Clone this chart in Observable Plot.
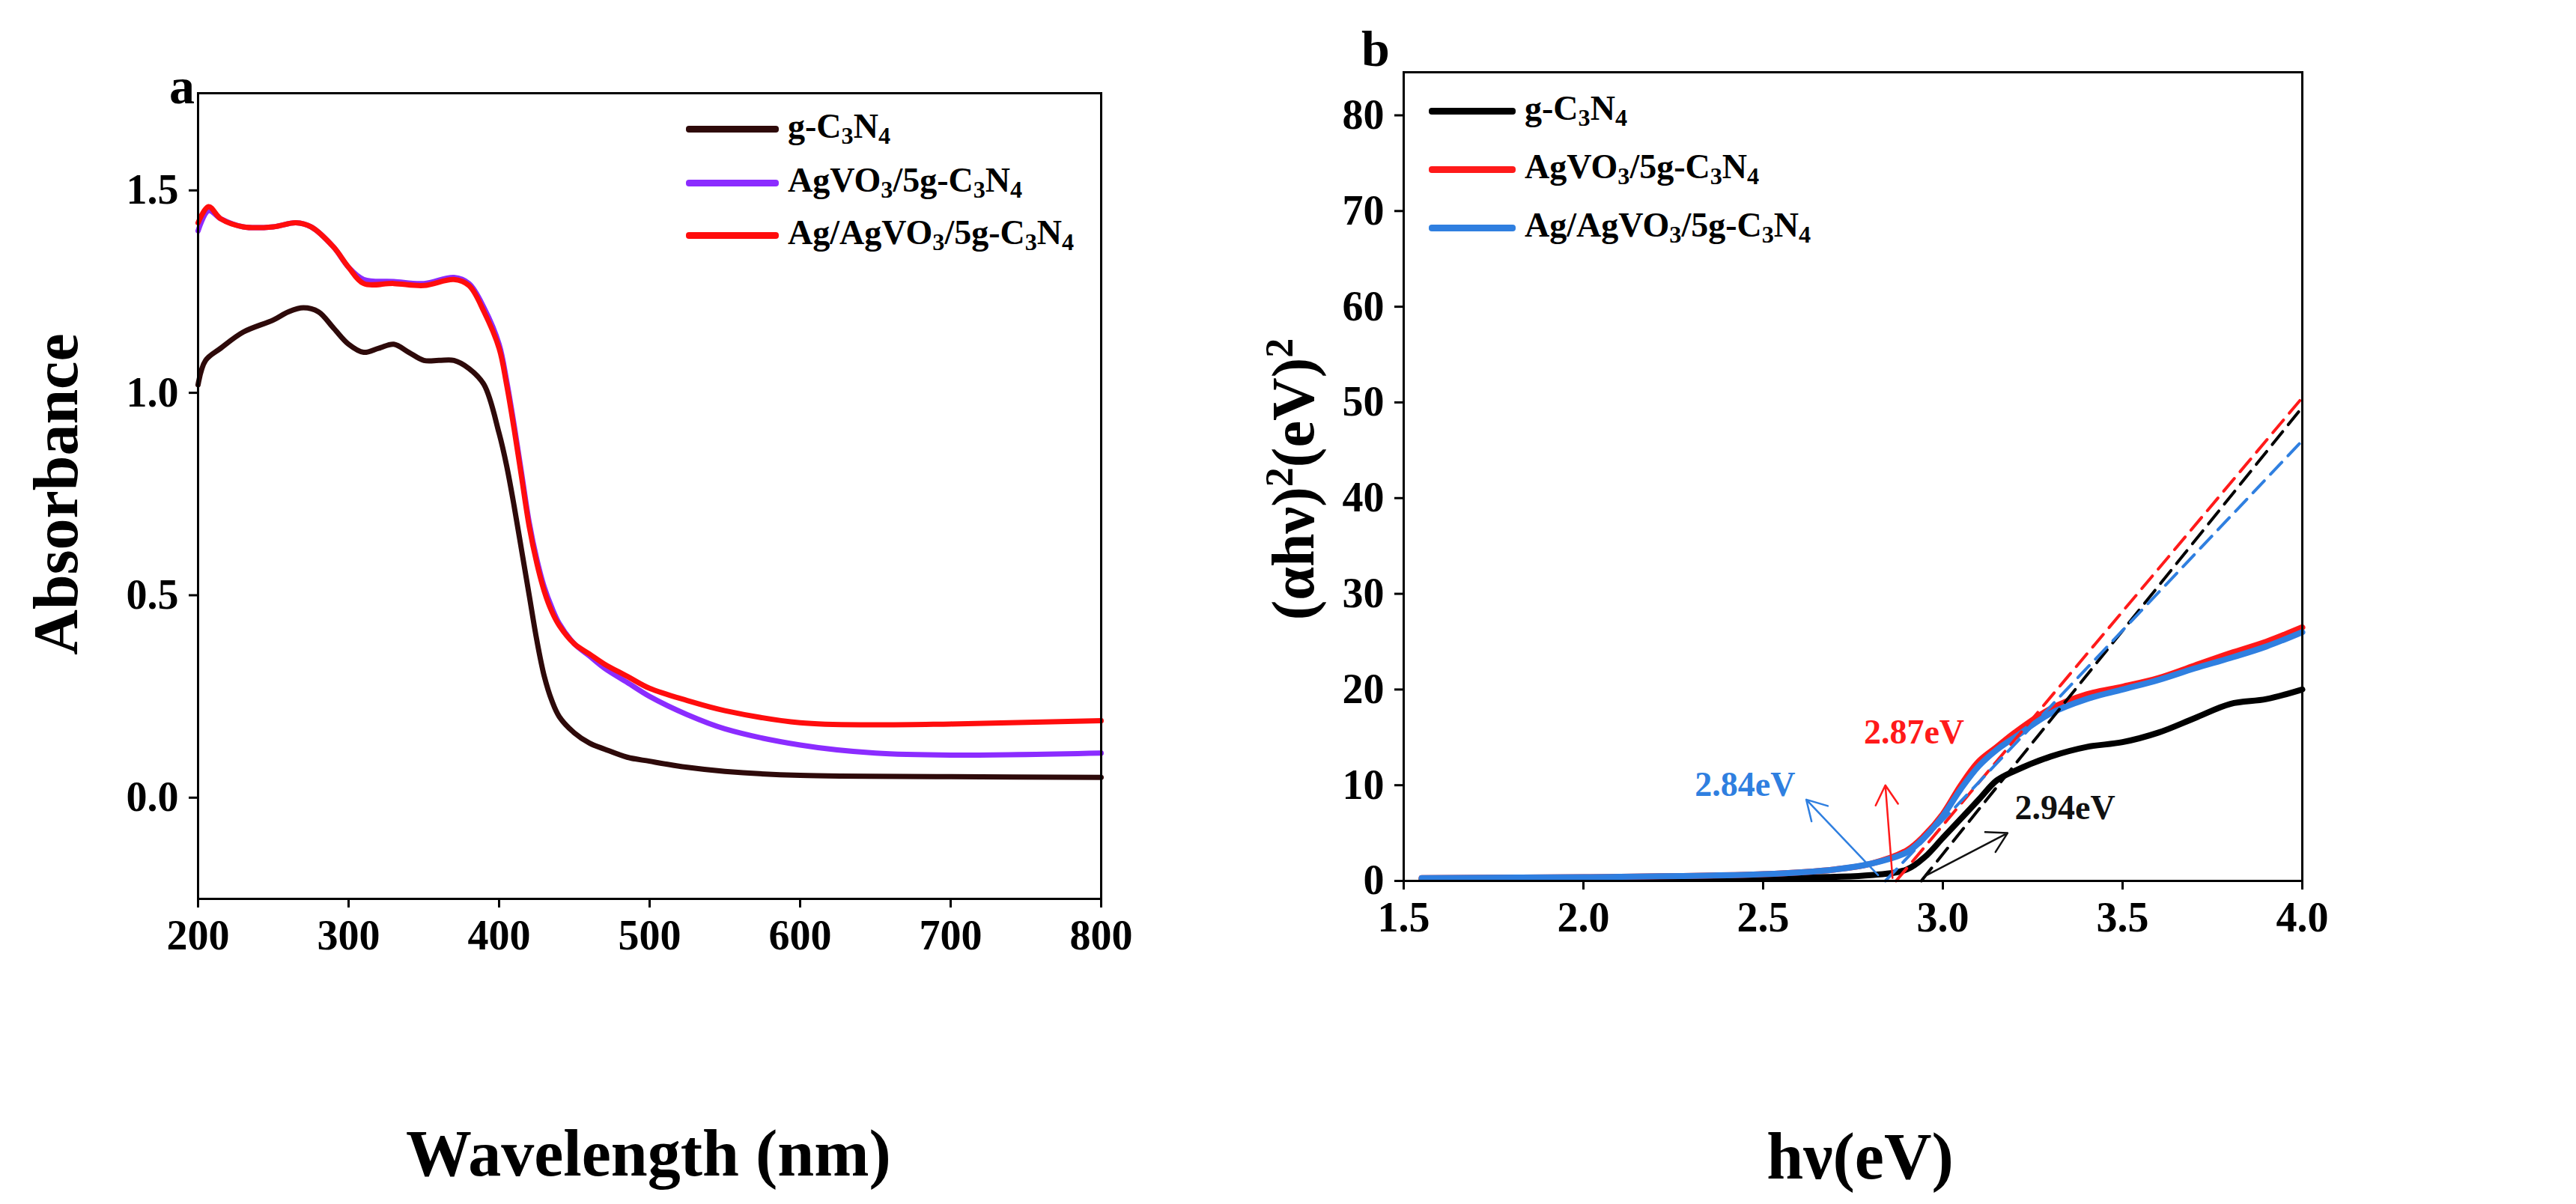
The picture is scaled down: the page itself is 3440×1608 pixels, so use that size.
<!DOCTYPE html>
<html><head><meta charset="utf-8">
<script src="https://cdn.jsdelivr.net/npm/d3@7"></script>
<script src="https://cdn.jsdelivr.net/npm/@observablehq/plot@0.6"></script>
<style>
body{margin:0;background:#fff;font-family:"Liberation Serif",serif;font-weight:bold}
#wrap{position:relative;width:3440px;height:1608px;overflow:hidden}
.abs{position:absolute;white-space:nowrap}
.sw{position:absolute;height:9px;border-radius:4px}
svg text{font-family:"Liberation Serif",serif;font-weight:bold}
</style></head><body><div id="wrap"></div>
<script>
// Panel a: absorbance spectra
const wlG = [200,205,215,230,250,260,270,280,290,300,310,320,330,340,350,360,370,380,390,400,405,410,415,420,425,430,435,440,450,460,470,485,500,525,550,600,700,800];
const absG = [1.02,1.08,1.11,1.15,1.18,1.20,1.21,1.20,1.16,1.12,1.10,1.11,1.12,1.10,1.08,1.08,1.08,1.06,1.02,0.90,0.82,0.72,0.61,0.50,0.39,0.30,0.24,0.20,0.16,0.135,0.12,0.10,0.09,0.075,0.065,0.055,0.052,0.05];
const wlV = [200,207,215,230,250,265,275,290,300,310,330,350,370,380,390,400,405,410,415,420,425,430,435,440,450,460,470,485,500,525,550,600,650,700,800];
const absV = [1.40,1.45,1.43,1.41,1.41,1.42,1.41,1.36,1.31,1.28,1.275,1.27,1.285,1.27,1.21,1.12,1.03,0.92,0.80,0.68,0.59,0.52,0.47,0.43,0.38,0.35,0.32,0.285,0.25,0.205,0.17,0.13,0.11,0.105,0.11];
const absAg = [1.42,1.46,1.43,1.41,1.41,1.42,1.41,1.36,1.31,1.27,1.27,1.265,1.28,1.265,1.20,1.11,1.02,0.91,0.79,0.67,0.58,0.51,0.46,0.425,0.38,0.355,0.33,0.30,0.27,0.24,0.215,0.185,0.18,0.182,0.19];
// Panel b: Tauc plot
const evG = [1.55,2.0,2.5,2.8,2.9,2.95,3.0,3.05,3.1,3.15,3.2,3.3,3.4,3.5,3.6,3.7,3.8,3.9,4.0];
const taucG = [0.2,0.2,0.3,0.6,1.2,2.5,4.5,6.5,8.5,10.5,11.5,13,14,14.5,15.5,17,18.5,19,20];
const evR = [1.55,2.0,2.5,2.7,2.8,2.9,2.95,3.0,3.05,3.1,3.15,3.2,3.3,3.4,3.5,3.6,3.7,3.8,3.9,4.0];
const taucR = [0.3,0.4,0.7,1.2,1.8,3.2,4.8,7.0,10,12.5,14,15.5,18,19.5,20.3,21.2,22.5,23.8,25,26.5];
const taucB = [0.3,0.4,0.7,1.2,1.8,3.0,4.6,6.8,9.6,12,13.7,15,17.5,19,20,21,22.2,23.3,24.5,26];
const fitG = {x:[2.94,4.0], y:[0,49.5]};
const fitR = {x:[2.87,4.0], y:[0,50.5]};
const fitB = {x:[2.84,4.0], y:[0,46]};
const arrows = [
 {x1:2.82,y1:0.6,x2:2.62,y2:8.5,c:"#2f7fe0"},
 {x1:2.86,y1:0.3,x2:2.84,y2:10,c:"#ff1a1a"},
 {x1:2.95,y1:0.5,x2:3.18,y2:5,c:"#111"}];
const notes = [{x:2.31,y:10,t:"2.84eV",c:"#2f7fe0"},{x:2.78,y:15.5,t:"2.87eV",c:"#ff1a1a"},{x:3.2,y:7.6,t:"2.94eV",c:"#111"}];

const wrap = document.getElementById("wrap");
const rows = (xs, ys) => xs.map((x,i)=>({x, y:ys[i]}));
const common = {style:{fontSize:"56px",fontFamily:"Liberation Serif",fontWeight:"bold",color:"#000",background:"transparent",overflow:"visible"}};

const pa = Plot.plot({...common, width:1720, height:1608, marginLeft:264, marginRight:250, marginTop:124, marginBottom:408,
 x:{domain:[200,800], label:null},
 y:{domain:[-0.25,1.74], label:null},
 marks:[
  Plot.line(rows(wlV,absV),{x:"x",y:"y",stroke:"#8b2cff",strokeWidth:7,curve:"catmull-rom"}),
  Plot.line(rows(wlV,absAg),{x:"x",y:"y",stroke:"#ff0d0d",strokeWidth:7,curve:"catmull-rom"}),
  Plot.line(rows(wlG,absG),{x:"x",y:"y",stroke:"#2e0a0a",strokeWidth:7,curve:"catmull-rom"}),
  Plot.frame({stroke:"#000",strokeWidth:3}),
  Plot.axisX({ticks:[200,300,400,500,600,700,800],tickSize:12,tickPadding:16,label:null,strokeWidth:3}),
  Plot.axisY({ticks:[0,0.5,1.0,1.5],tickFormat:d3.format(".1f"),tickSize:12,tickPadding:14,label:null,strokeWidth:3})
 ]});
pa.style.position="absolute"; pa.style.left="0px"; pa.style.top="0px";
wrap.appendChild(pa);

const pb = Plot.plot({...common, width:1720, height:1608, marginLeft:154, marginRight:366, marginTop:96, marginBottom:432,
 x:{domain:[1.5,4.0], label:null},
 y:{domain:[0,84.5], label:null},
 marks:[
  Plot.line(rows(evG,taucG),{x:"x",y:"y",stroke:"#000",strokeWidth:8,curve:"catmull-rom"}),
  Plot.line(rows(evR,taucR),{x:"x",y:"y",stroke:"#ff1a1a",strokeWidth:8,curve:"catmull-rom"}),
  Plot.line(rows(evR,taucB),{x:"x",y:"y",stroke:"#2f7fe0",strokeWidth:8,curve:"catmull-rom"}),
  Plot.line(rows(fitR.x,fitR.y),{x:"x",y:"y",stroke:"#ff1a1a",strokeWidth:4,strokeDasharray:"22,12"}),
  Plot.line(rows(fitG.x,fitG.y),{x:"x",y:"y",stroke:"#000",strokeWidth:4,strokeDasharray:"22,12"}),
  Plot.line(rows(fitB.x,fitB.y),{x:"x",y:"y",stroke:"#2f7fe0",strokeWidth:4,strokeDasharray:"22,12"}),
  Plot.arrow(arrows,{x1:"x1",y1:"y1",x2:"x2",y2:"y2",stroke:"c",strokeWidth:2.5,headLength:18}),
  Plot.text(notes,{x:"x",y:"y",text:"t",fill:"c",fontSize:46,textAnchor:"start",fontWeight:"bold"}),
  Plot.frame({stroke:"#000",strokeWidth:3}),
  Plot.axisX({ticks:[1.5,2.0,2.5,3.0,3.5,4.0],tickFormat:d3.format(".1f"),tickSize:12,tickPadding:16,label:null,strokeWidth:3}),
  Plot.axisY({ticks:[0,10,20,30,40,50,60,70,80],tickSize:12,tickPadding:14,label:null,strokeWidth:3})
 ]});
pb.style.position="absolute"; pb.style.left="1720px"; pb.style.top="0px";
wrap.appendChild(pb);

function txt(html, css){const d=document.createElement("div");d.className="abs";d.innerHTML=html;Object.assign(d.style,css);wrap.appendChild(d);return d;}
function sw(x,y,w,c){const d=document.createElement("div");d.className="sw";Object.assign(d.style,{left:x+"px",top:(y-4)+"px",width:w+"px",background:c});wrap.appendChild(d);}
const S=n=>`<sub style="font-size:0.7em;vertical-align:-0.25em">${n}</sub>`;
const gcn = `g-C${S(3)}N${S(4)}`;
const ag = `AgVO${S(3)}/5g-C${S(3)}N${S(4)}`;
const ag2 = `Ag/AgVO${S(3)}/5g-C${S(3)}N${S(4)}`;
[[gcn,"#2e0a0a",172],[ag,"#8b2cff",244],[ag2,"#ff0d0d",314]].forEach(([t,c,y])=>{sw(916,y,124,c);txt(t,{left:"1052px",top:(y-30)+"px",fontSize:"46px",lineHeight:"54px"});});
[[gcn,"#000",148],[ag,"#ff1a1a",226],[ag2,"#2f7fe0",304]].forEach(([t,c,y])=>{sw(1908,y,116,c);txt(t,{left:"2036px",top:(y-30)+"px",fontSize:"46px",lineHeight:"54px"});});
txt("a",{left:"226px",top:"80px",fontSize:"68px",lineHeight:"70px"});
txt("b",{left:"1818px",top:"30px",fontSize:"68px",lineHeight:"70px"});
txt("Wavelength (nm)",{left:"866px",top:"1540px",fontSize:"88px",transform:"translate(-50%,-50%)"});
txt("hν(eV)",{left:"2484px",top:"1544px",fontSize:"88px",transform:"translate(-50%,-50%)"});
txt("Absorbance",{left:"74px",top:"660px",fontSize:"84px",transform:"translate(-50%,-50%) rotate(-90deg)"});
txt(`(αhν)<sup style="font-size:0.65em">2</sup>(eV)<sup style="font-size:0.65em">2</sup>`,{left:"1726px",top:"640px",fontSize:"80px",transform:"translate(-50%,-50%) rotate(-90deg)"});
</script></body></html>
